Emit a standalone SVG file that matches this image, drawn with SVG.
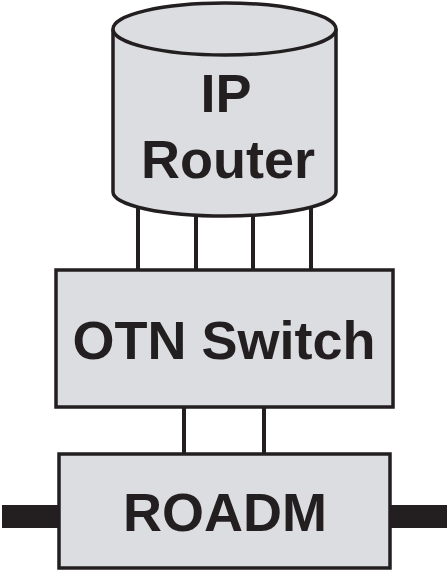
<svg xmlns="http://www.w3.org/2000/svg" width="447" height="571" viewBox="0 0 447 571">
<style>
.box{fill:#dcdde0;stroke:#231f20;stroke-width:3.5}
.ln{stroke:#231f20;stroke-width:4;fill:none}
.bar{fill:#231f20}
.lbl{font-family:"Liberation Sans",Arial,sans-serif;font-weight:bold;font-size:54px;fill:#231f20;text-anchor:middle}
</style>
<rect width="447" height="571" fill="#ffffff"/>
<g id="connectors">
<line class="ln" x1="138" y1="205" x2="138" y2="270"/>
<line class="ln" x1="196" y1="210" x2="196" y2="270"/>
<line class="ln" x1="253" y1="210" x2="253" y2="270"/>
<line class="ln" x1="311" y1="205" x2="311" y2="270"/>
<line class="ln" x1="184" y1="407" x2="184" y2="453"/>
<line class="ln" x1="264" y1="407" x2="264" y2="453"/>
<rect class="bar" x="2" y="505" width="57" height="23"/>
<rect class="bar" x="389" y="505" width="58" height="23"/>
</g>
<g id="ip-router">
<path class="box" d="M113,29 L113,192 A111.5,24 0 0 0 336,192 L336,29"/>
<ellipse class="box" cx="224.5" cy="29" rx="111.5" ry="26"/>
<text class="lbl" x="226" y="112">IP</text>
<text class="lbl" x="228" y="178">Router</text>
</g>
<g id="otn-switch">
<rect class="box" x="56" y="270" width="337" height="137"/>
<text class="lbl" x="224" y="359">OTN Switch</text>
</g>
<g id="roadm">
<rect class="box" x="59" y="454" width="331" height="114"/>
<text class="lbl" x="225" y="531">ROADM</text>
</g>
</svg>
